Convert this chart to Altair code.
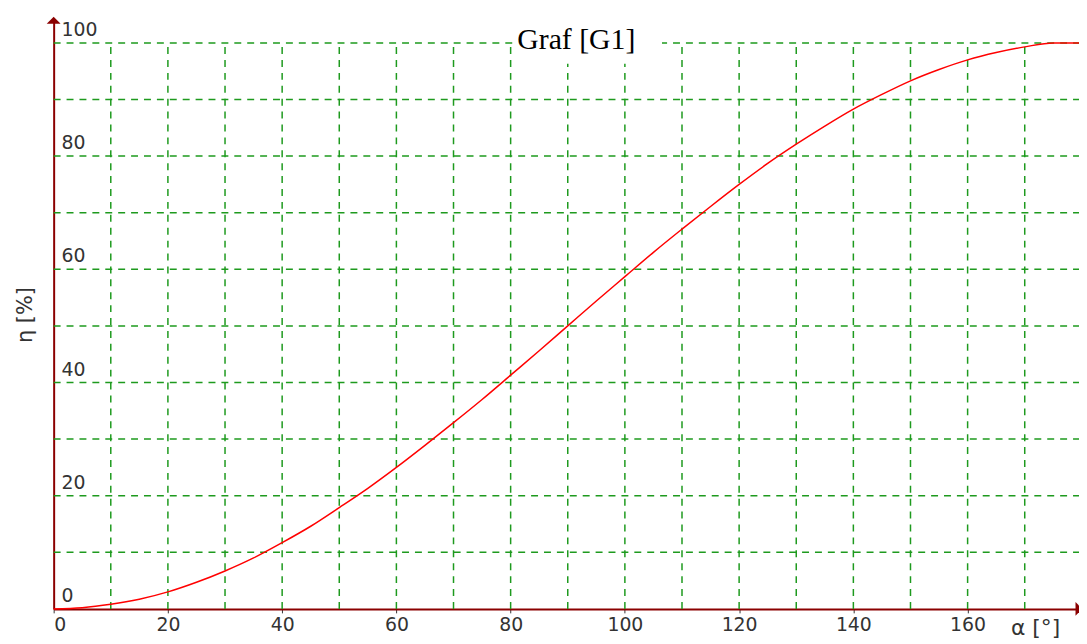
import altair as alt
import pandas as pd

# ---- data ----
alpha = [0, 5, 10, 15, 20, 25, 30, 35, 40, 45, 50, 55, 60, 65, 70, 75, 80, 85, 90,
         95, 100, 105, 110, 115, 120, 125, 130, 135, 140, 145, 150, 155, 160, 165,
         170, 175, 179.5]
eta = [0, 0.2, 0.8, 1.7, 3.0, 4.7, 6.7, 9.0, 11.7, 14.6, 17.9, 21.3, 25.0, 28.9,
       32.9, 37.0, 41.3, 45.6, 50.0, 54.4, 58.7, 63.0, 67.1, 71.1, 75.0, 78.7, 82.1,
       85.3, 88.3, 90.9, 93.3, 95.3, 97.0, 98.3, 99.3, 100.0, 100.0]

x_grid = [10, 20, 30, 40, 50, 60, 70, 80, 90, 100, 110, 120, 130, 140, 150, 160, 170]
y_grid = [10, 20, 30, 40, 50, 60, 70, 80, 90, 100]
x_ticks = [0, 20, 40, 60, 80, 100, 120, 140, 160]
y_ticks = [0, 20, 40, 60, 80, 100]
y_tick_labels = ["0", "20", "40", "60", "80", "100"]

chart_title = "Graf [G1]"
x_title = "α [°]"
y_title = "η [%]"

X_MAX = 179.5
Y_MAX = 104
GRID_TOP = 100

# title position / white box behind it (data units)
title_pos = {"x": 91.5, "y": 100}
title_box = {"x": 80.5, "x2": 106.5, "y": 96.3, "y2": 104}

AXIS_RED = "#8b0000"
GRID_GREEN = "#1e9a1e"
TEXT = "#333333"
FONT = "DejaVu Sans"

xs = alt.Scale(domain=[0, X_MAX], nice=False, zero=False)
ys = alt.Scale(domain=[0, Y_MAX], nice=False, zero=False)

x_axis = alt.Axis(values=x_ticks, title=x_title, grid=False, domainColor=AXIS_RED,
                  domainWidth=2, tickColor=TEXT, tickSize=4, tickWidth=1,
                  labelFont=FONT, labelFontSize=19, labelColor=TEXT, labelPadding=3,
                  labelFlush=True, titleFont=FONT, titleFontSize=22, titleColor=TEXT,
                  titleFontWeight="normal", titleX=964, titleY=9, titleAlign="left",
                  titleBaseline="top")
y_axis = alt.Axis(labels=False, ticks=False, grid=False, domainColor=AXIS_RED,
                  domainWidth=2, title=y_title, titleFont=FONT, titleFontSize=21,
                  titleColor=TEXT, titleFontWeight="normal", titlePadding=18)


def X(field, **kw):
    return alt.X(field, type="quantitative", scale=xs, axis=x_axis, **kw)


def Y(field, **kw):
    return alt.Y(field, type="quantitative", scale=ys, axis=y_axis, **kw)


vgrid_df = pd.DataFrame({"x": x_grid, "y0": [0] * len(x_grid), "y1": [GRID_TOP] * len(x_grid)})
hgrid_df = pd.DataFrame({"y": y_grid, "x0": [0] * len(y_grid), "x1": [X_MAX] * len(y_grid)})
curve_df = pd.DataFrame({"alpha": alpha, "eta": eta})
ylab_df = pd.DataFrame({"x": [0] * len(y_ticks), "y": y_ticks, "t": y_tick_labels})
box_df = pd.DataFrame([title_box])
title_df = pd.DataFrame([{**title_pos, "t": chart_title}])
arrow_up_df = pd.DataFrame({"x": [0], "y": [Y_MAX]})
arrow_right_df = pd.DataFrame({"x": [X_MAX], "y": [0]})

grid_style = dict(color=GRID_GREEN, strokeDash=[7, 6], strokeWidth=1.5)

vgrid = alt.Chart(vgrid_df).mark_rule(**grid_style).encode(x=X("x"), y=Y("y0"), y2="y1")
hgrid = alt.Chart(hgrid_df).mark_rule(**grid_style).encode(y=Y("y"), x=X("x0"), x2="x1")

box = alt.Chart(box_df).mark_rect(color="white").encode(x=X("x"), x2="x2", y=Y("y"), y2="y2")

curve = alt.Chart(curve_df).mark_line(color="#ff0000", strokeWidth=1.5,
                                       interpolate="monotone").encode(
    x=X("alpha"), y=Y("eta"))

arrow_up = alt.Chart(arrow_up_df).mark_point(
    shape="M-1,0.5L0,-0.5L1,0.5Z", filled=True, size=196, color=AXIS_RED, opacity=1,
    strokeWidth=0).encode(x=X("x"), y=Y("y"))
arrow_right = alt.Chart(arrow_right_df).mark_point(
    shape="M-0.5,-1L0.5,0L-0.5,1Z", filled=True, size=196, color=AXIS_RED, opacity=1,
    strokeWidth=0).encode(x=X("x"), y=Y("y"))

ylabels = alt.Chart(ylab_df).mark_text(
    align="left", baseline="alphabetic", dx=8, dy=-7, font=FONT, fontSize=19,
    color=TEXT).encode(x=X("x"), y=Y("y"), text="t:N")

title = alt.Chart(title_df).mark_text(
    align="center", baseline="alphabetic", dy=6, font="Liberation Serif", fontSize=30,
    color="black").encode(x=X("x"), y=Y("y"), text="t:N")

chart = alt.layer(vgrid, hgrid, box, curve, arrow_up, arrow_right, ylabels, title).properties(
    width=1033, height=593,
    padding={"left": 46, "top": 10, "right": 0, "bottom": 33},
    autosize=alt.AutoSizeParams(type="none"),
).configure_view(stroke=None)

chart.save("out.html", embed_options={"renderer": "svg", "actions": False})
